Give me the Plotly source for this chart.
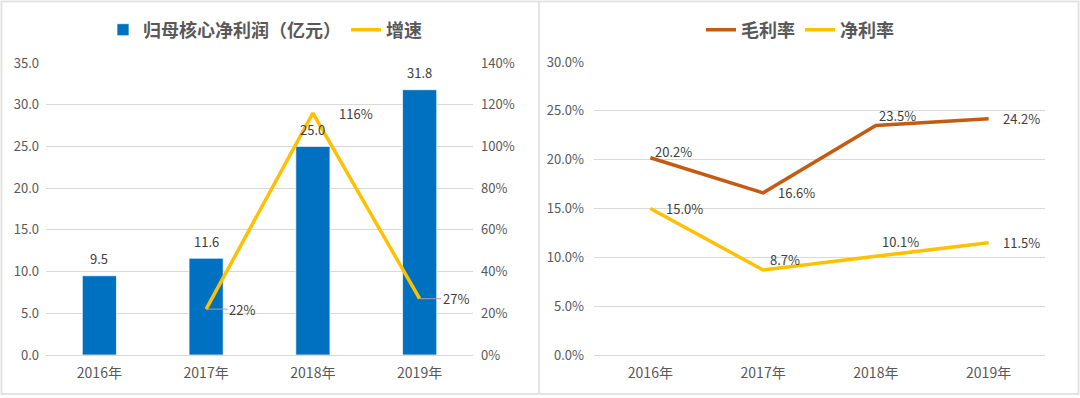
import plotly.graph_objects as go

# ---------------- data ----------------
years = ["2016年", "2017年", "2018年", "2019年"]
core_profit = [9.5, 11.6, 25.0, 31.8]          # 归母核心净利润（亿元）
growth = [None, 0.22, 1.16, 0.27]               # 增速
gross_margin = [0.202, 0.166, 0.235, 0.242]     # 毛利率
net_margin = [0.150, 0.087, 0.101, 0.115]       # 净利率

W, H = 1080, 398
FONT = "Noto Sans CJK SC"
TICK = "#595959"
LABEL = "#404040"
GRID = "#D9D9D9"
BLUE = "#0070C0"
YELLOW = "#FFC000"
BROWN = "#C55A11"


def px(x):
    return x / W


def py(y):
    return 1 - y / H


fig = go.Figure()

fig.add_trace(go.Bar(
    x=years, y=core_profit, name="归母核心净利润（亿元）",
    marker=dict(color=BLUE, line=dict(color="rgba(255,255,255,0.7)", width=1)),
    xaxis="x", yaxis="y", legend="legend", width=0.32,
))
fig.add_trace(go.Scatter(
    x=years, y=growth, name="增速", mode="lines",
    line=dict(color=YELLOW, width=3.5),
    xaxis="x", yaxis="y2", legend="legend",
))
fig.add_trace(go.Scatter(
    x=years, y=gross_margin, name="毛利率", mode="lines",
    line=dict(color=BROWN, width=3.5),
    xaxis="x2", yaxis="y3", legend="legend2",
))
fig.add_trace(go.Scatter(
    x=years, y=net_margin, name="净利率", mode="lines",
    line=dict(color=YELLOW, width=3.5),
    xaxis="x2", yaxis="y3", legend="legend2",
))

ann = []
lab_font = dict(family=FONT, size=13, color=LABEL)
# bar value labels
for yr, v in zip(years, core_profit):
    ann.append(dict(x=yr, y=v, xref="x", yref="y", text=f"{v:.1f}",
                    showarrow=False, yanchor="middle", yshift=17, font=lab_font))
# growth labels
g_off = [None, (36, True), (43, False), (36, True)]
for yr, v, off in zip(years, growth, g_off):
    if v is None:
        continue
    dx, arrow = off
    if arrow:
        ann.append(dict(x=yr, y=v, xref="x", yref="y2", text=f"{v*100:.0f}%",
                        showarrow=True, arrowhead=0, arrowwidth=1, arrowcolor="#A6A6A6",
                        ax=dx, ay=0, standoff=0, font=lab_font))
    else:
        ann.append(dict(x=yr, y=v, xref="x", yref="y2", text=f"{v*100:.0f}%",
                        showarrow=False, xshift=dx, font=lab_font))
# margin labels
gm_off = [(23, 6), (33, 0), (22, 10), (33, 0)]
nm_off = [(34, 0), (22, 11), (25, 15), (33, 0)]
for series, offs in ((gross_margin, gm_off), (net_margin, nm_off)):
    for yr, v, (dx, dy) in zip(years, series, offs):
        ann.append(dict(x=yr, y=v, xref="x2", yref="y3", text=f"{v*100:.1f}%",
                        showarrow=False, xshift=dx, yshift=dy, font=lab_font))

shapes = [
    dict(type="rect", xref="paper", yref="paper",
         x0=px(1.5), x1=px(539), y0=py(394), y1=py(1.5),
         line=dict(color="#E3E3E3", width=2), layer="below"),
    dict(type="rect", xref="paper", yref="paper",
         x0=px(539), x1=px(1078.5), y0=py(394), y1=py(1.5),
         line=dict(color="#E3E3E3", width=2), layer="below"),
]

tickfont = dict(family=FONT, size=13, color=TICK)
xfont = dict(family=FONT, size=14, color=TICK)
ydom = [py(355), py(63)]
ydom_r = [py(355), py(62)]

fig.update_layout(
    width=W, height=H,
    margin=dict(l=0, r=0, t=0, b=0, autoexpand=False),
    paper_bgcolor="white", plot_bgcolor="white",
    font=dict(family=FONT, color=TICK),
    showlegend=True,
    annotations=ann, shapes=shapes,
    xaxis=dict(domain=[px(46), px(473)], type="category", tickfont=xfont,
               range=[-0.5, 3.5],
               showgrid=False, showline=False, ticks="", ticklabelstandoff=8,
               anchor="y", automargin=False),
    yaxis=dict(domain=ydom, range=[0, 35], dtick=5, tickformat=".1f",
               tickfont=tickfont, showgrid=True, gridcolor=GRID, gridwidth=1,
               zeroline=True, zerolinecolor=GRID, zerolinewidth=1,
               showline=False, ticks="", ticklabelstandoff=6, anchor="x",
               automargin=False),
    yaxis2=dict(domain=ydom, range=[0, 1.4], dtick=0.2, tickformat=".0%",
                tickfont=tickfont, overlaying="y", side="right", anchor="x",
                showgrid=False, zeroline=False, showline=False, ticks="",
                ticklabelstandoff=7, automargin=False),
    xaxis2=dict(domain=[px(594), px(1045)], type="category", tickfont=xfont,
                range=[-0.5, 3.5],
                showgrid=False, showline=False, ticks="", ticklabelstandoff=8,
                anchor="y3", automargin=False),
    yaxis3=dict(domain=ydom_r, range=[0, 0.3], dtick=0.05, tickformat=".1%",
                tickfont=tickfont, showgrid=True, gridcolor=GRID, gridwidth=1,
                zeroline=True, zerolinecolor=GRID, zerolinewidth=1,
                showline=False, ticks="", ticklabelstandoff=9, anchor="x2",
                automargin=False),
    legend=dict(orientation="h", x=px(265), y=py(30), xanchor="center", yanchor="middle",
                font=dict(family=FONT, size=18, color=TICK, weight="bold"),
                bgcolor="rgba(0,0,0,0)", itemwidth=30),
    legend2=dict(orientation="h", x=px(800), y=py(30), xanchor="center", yanchor="middle",
                 font=dict(family=FONT, size=18, color=TICK, weight="bold"),
                 bgcolor="rgba(0,0,0,0)", itemwidth=30),
)

fig.write_html(
    "out.html",
    config={"displayModeBar": False},
    post_script="document.body.style.margin='0';document.body.style.overflow='hidden';",
)
